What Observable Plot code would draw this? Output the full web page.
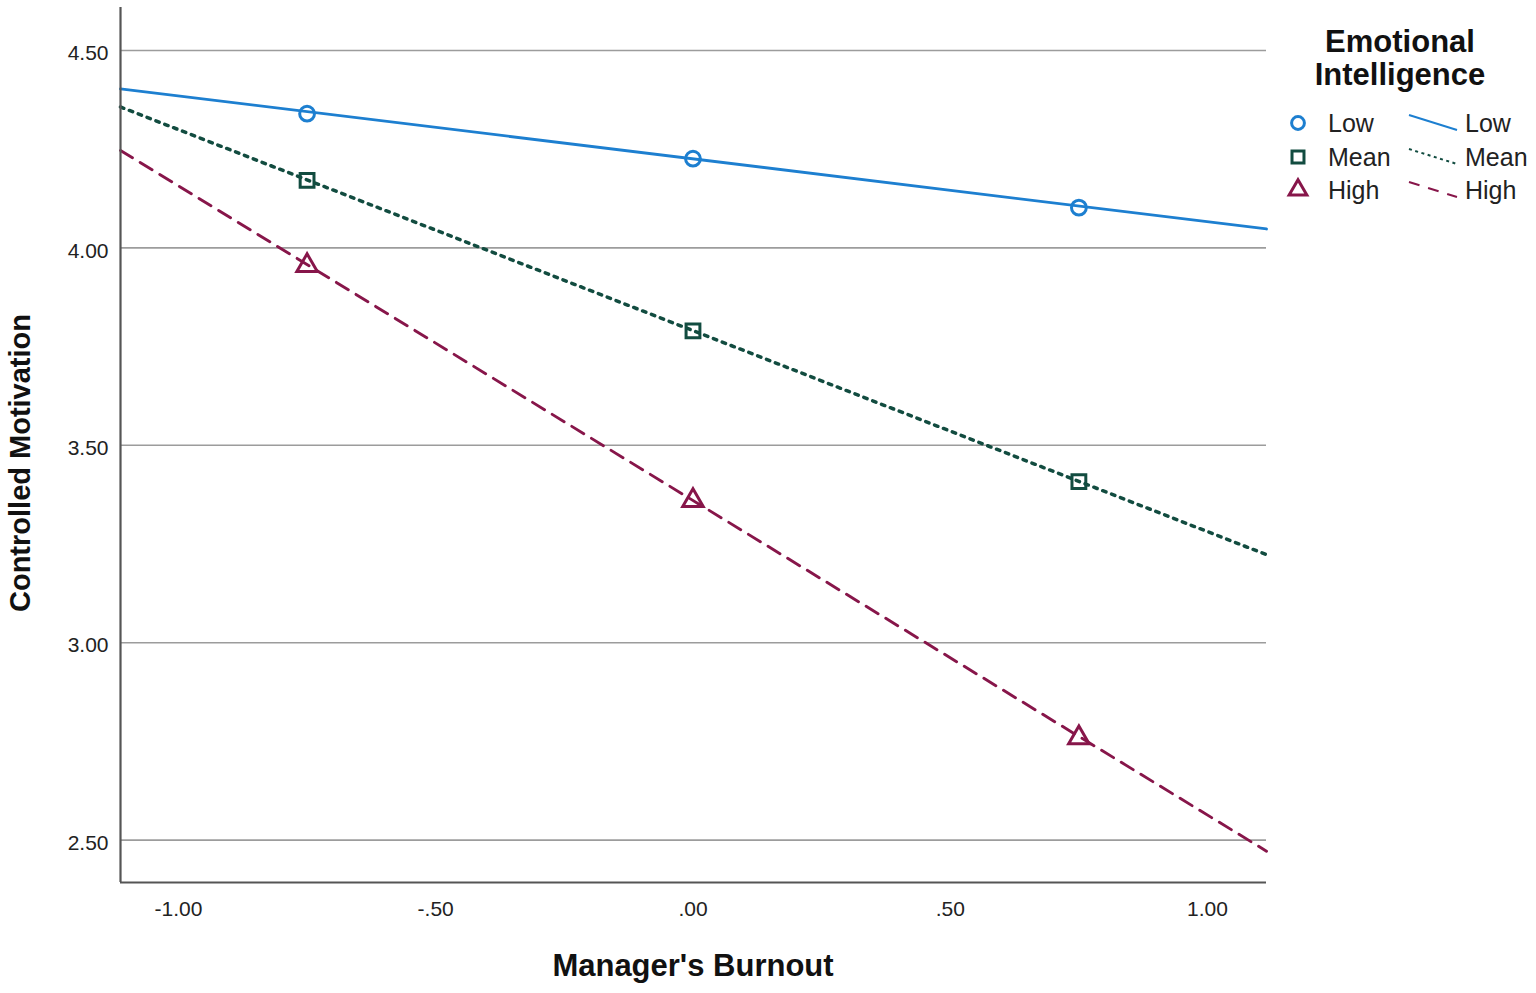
<!DOCTYPE html>
<html>
<head>
<meta charset="utf-8">
<script src="https://cdn.jsdelivr.net/npm/d3@7"></script>
<script src="https://cdn.jsdelivr.net/npm/@observablehq/plot@0.6"></script>
<style>
  html, body { margin: 0; padding: 0; background: #fff; overflow: hidden; }
  #chart svg { display: block; }
</style>
</head>
<body>
<div id="chart"></div>
<script>
// ---- data ----
const groups = ["Low", "Mean", "High"];
const burnoutPoints = [-0.75, 0, 0.75];
const lowValues = [4.340, 4.226, 4.102];
const meanValues = [4.171, 3.790, 3.408];
const highValues = [3.955, 3.360, 2.759];
const lineEnds = [-1.1126, 1.1146];
const lowLine = [4.403, 4.048];
const meanLine = [4.357, 3.223];
const highLine = [4.247, 2.472];
const xTicks = [-1, -0.5, 0, 0.5, 1];
const yTicks = [2.5, 3, 3.5, 4, 4.5];
const xDomain = [-1.1126, 1.1146];
const yDomain = [2.3926, 4.609];

const colors = {Low: "#1d7fd0", Mean: "#124c40", High: "#87164a"};
const dashes = {Low: null, Mean: "3.5,6", High: "14,9"};
const widths = {Low: 2.8, Mean: 3.5, High: 2.9};
const symbols = {Low: "circle", Mean: "square", High: "triangle"};
const radii = {Low: 7.4, Mean: 7.8, High: 7.6};
const pointSeries = {Low: lowValues, Mean: meanValues, High: highValues};
const lineSeries = {Low: lowLine, Mean: meanLine, High: highLine};

const points = groups.flatMap(g => burnoutPoints.map((x, i) => ({group: g, x, y: pointSeries[g][i]})));
const lines = groups.flatMap(g => lineEnds.map((x, i) => ({group: g, x, y: lineSeries[g][i]})));

const fmt = v => {
  const neg = v < 0;
  let s = Math.abs(v).toFixed(2).replace(/^0\./, ".");
  return (neg ? "-" : "") + s;
};

const font = "'Liberation Sans', Arial, sans-serif";

const plot = Plot.plot({
  width: 1536,
  height: 993,
  marginLeft: 120,
  marginRight: 270,
  marginTop: 7,
  marginBottom: 111,
  style: {fontFamily: font, background: "#fff", color: "#222"},
  x: {domain: xDomain},
  y: {domain: yDomain},
  marks: [
    Plot.gridY(yTicks, {stroke: "#9c9c9c", strokeOpacity: 1, strokeWidth: 1.6}),
    Plot.axisY(yTicks, {tickSize: 0, tickPadding: 12, tickFormat: fmt, fontSize: 21, label: null, dy: 3, fill: "#222"}),
    Plot.axisX(xTicks, {tickSize: 0, tickPadding: 19, tickFormat: fmt, fontSize: 21, label: null, fill: "#222"}),
    ...groups.map(g => Plot.line(lines.filter(d => d.group === g), {
      x: "x", y: "y", stroke: colors[g], strokeWidth: widths[g],
      strokeDasharray: dashes[g] || undefined
    })),
    ...groups.map(g => Plot.dot(points.filter(d => d.group === g), {
      x: "x", y: "y", stroke: colors[g], strokeWidth: 3, fill: "none",
      symbol: symbols[g], r: radii[g]
    })),
    Plot.ruleX([xDomain[0]], {stroke: "#555", strokeWidth: 2.2}),
    Plot.ruleY([yDomain[0]], {stroke: "#555", strokeWidth: 2.2})
  ]
});

document.getElementById("chart").appendChild(plot);

// ---- axis titles and legend ----
const svg = d3.select(plot);
svg.append("text")
  .attr("x", 693).attr("y", 968)
  .attr("text-anchor", "middle").attr("dominant-baseline", "middle")
  .style("font", `bold 31px ${font}`).attr("fill", "#111")
  .text("Manager's Burnout");
svg.append("text")
  .attr("transform", "translate(22,463) rotate(-90)")
  .attr("text-anchor", "middle").attr("dominant-baseline", "middle")
  .style("font", `bold 29px ${font}`).attr("fill", "#111")
  .text("Controlled Motivation");

const leg = svg.append("g");
leg.append("text").attr("x", 1400).attr("y", 44)
  .attr("text-anchor", "middle").attr("dominant-baseline", "middle")
  .style("font", `bold 31px ${font}`).attr("fill", "#111").text("Emotional");
leg.append("text").attr("x", 1400).attr("y", 77)
  .attr("text-anchor", "middle").attr("dominant-baseline", "middle")
  .style("font", `bold 31px ${font}`).attr("fill", "#111").text("Intelligence");

const rowY = [125, 159, 192];
const d3sym = {Low: d3.symbolCircle, Mean: d3.symbolSquare, High: d3.symbolTriangle};
groups.forEach((g, i) => {
  const y = rowY[i];
  leg.append("path")
    .attr("transform", `translate(1298,${y - 2})`)
    .attr("d", d3.symbol(d3sym[g], Math.PI * radii[g] * radii[g] * 0.75)())
    .attr("fill", "none").attr("stroke", colors[g]).attr("stroke-width", 3);
  leg.append("text").attr("x", 1328).attr("y", y)
    .attr("text-anchor", "start").attr("dominant-baseline", "middle")
    .style("font", `25px ${font}`).attr("fill", "#222").text(g);
  leg.append("line")
    .attr("x1", 1409).attr("y1", y - 10).attr("x2", 1457).attr("y2", y + 5)
    .attr("stroke", colors[g]).attr("stroke-width", 2)
    .attr("stroke-dasharray", g === "Low" ? null : (g === "Mean" ? "3,3.5" : "11,9"));
  leg.append("text").attr("x", 1465).attr("y", y)
    .attr("text-anchor", "start").attr("dominant-baseline", "middle")
    .style("font", `25px ${font}`).attr("fill", "#222").text(g);
});
</script>
</body>
</html>
